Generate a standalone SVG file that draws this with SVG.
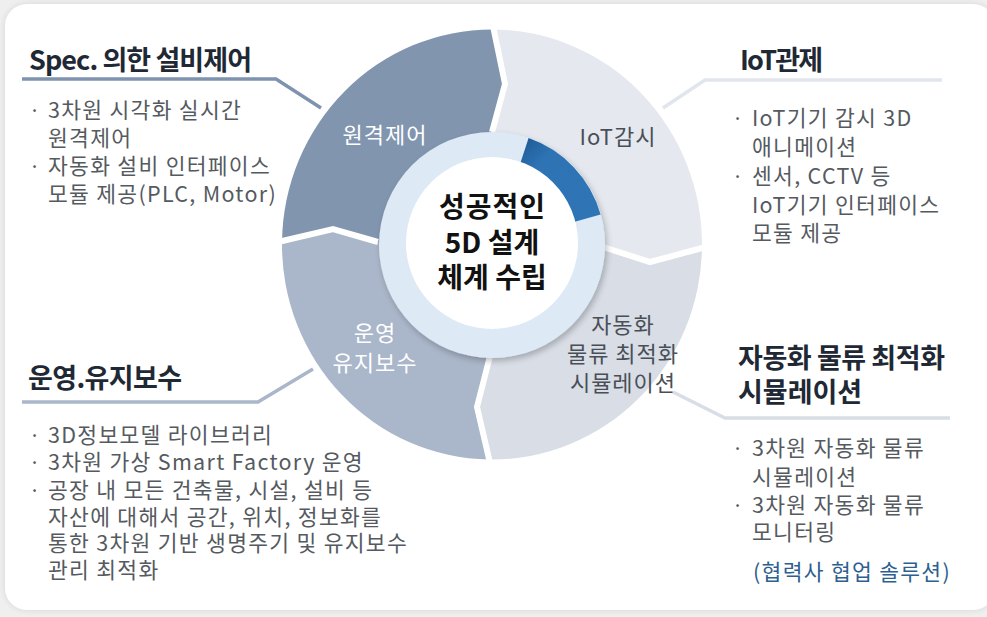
<svg xmlns="http://www.w3.org/2000/svg" width="987" height="617" viewBox="0 0 987 617">
<defs>
<style>
text{font-family:"Noto Sans CJK KR","Noto Sans",sans-serif;}
.title{font-size:27px;font-weight:700;fill:#1f2935;}
.item{font-size:21.5px;letter-spacing:1.3px;fill:#555a60;}
.bul{font-size:20px;fill:#555a60;}
.seg{font-size:22px;letter-spacing:1px;text-anchor:middle;}
.segw{fill:#ffffff;}
.segd{fill:#4a4f57;}
.center{font-size:28px;font-weight:700;fill:#111;text-anchor:middle;}
.gap{fill:none;stroke:#ffffff;stroke-width:6;stroke-linejoin:miter;}
.con{fill:none;stroke-width:3.5;}
</style>
<filter id="sh" x="-20%" y="-20%" width="140%" height="140%">
<feGaussianBlur in="SourceAlpha" stdDeviation="3"/>
<feOffset dx="2" dy="3"/>
<feComponentTransfer><feFuncA type="linear" slope="0.25"/></feComponentTransfer>
<feMerge><feMergeNode/><feMergeNode in="SourceGraphic"/></feMerge>
</filter>
<filter id="psh" x="-5%" y="-5%" width="110%" height="110%">
<feGaussianBlur in="SourceAlpha" stdDeviation="3"/>
<feComponentTransfer><feFuncA type="linear" slope="0.12"/></feComponentTransfer>
<feMerge><feMergeNode/><feMergeNode in="SourceGraphic"/></feMerge>
</filter>
<linearGradient id="arcg" x1="528" y1="138" x2="600" y2="212" gradientUnits="userSpaceOnUse">
<stop offset="0" stop-color="#1f5c98"/>
<stop offset="0.25" stop-color="#2e73b4"/>
<stop offset="1" stop-color="#2f75b6"/>
</linearGradient>
</defs>
<rect x="0" y="0" width="987" height="617" fill="#efefef"/>
<rect x="5" y="4" width="990" height="606" rx="22" fill="#ffffff" filter="url(#psh)"/>

<g id="ring-segments">
<g id="seg-remote">
<path d="M282,242 A210,215 0 0 1 493,29.5 L505,84 L492,132 L492,244 L378,242 L333,229 Z" fill="#8195af"/>
<text class="seg segw" x="385" y="143">원격제어</text>
</g>
<g id="seg-iot">
<path d="M493,29.5 A210,215 0 0 1 702,247 L650,262 L603,247 L492,244 L492,132 L505,84 Z" fill="#e5e9ef"/>
<text class="seg segd" x="618" y="145">IoT감시</text>
</g>
<g id="seg-logistics">
<path d="M702,247 A210,215 0 0 1 489,459.5 L477,407 L490,356 L492,244 L603,247 L650,262 Z" fill="#d8dde6"/>
<text class="seg segd" x="623" y="333">자동화</text>
<text class="seg segd" x="623" y="362">물류 최적화</text>
<text class="seg segd" x="623" y="391">시뮬레이션</text>
</g>
<g id="seg-ops">
<path d="M489,459.5 A210,215 0 0 1 282,242 L333,229 L378,242 L492,244 L490,356 L477,407 Z" fill="#aab6c9"/>
<text class="seg segw" x="375" y="341">운영</text>
<text class="seg segw" x="375" y="371">유지보수</text>
</g>
<g id="gaps">
<polyline class="gap" points="493,26 505,84 492,132"/>
<polyline class="gap" points="706,247 650,262 603,247"/>
<polyline class="gap" points="490,463 477,407 490,356"/>
<polyline class="gap" points="278,242 333,229 378,242"/>
</g>
</g>

<g id="hub">
<circle cx="492" cy="245" r="113" fill="#dde9f5" filter="url(#sh)"/>
<path d="M528.6,138.1 A113,113 0 0 1 600.6,214.4 L574.8,221.8 A86,86 0 0 0 520.0,164.3 Z" fill="url(#arcg)"/>
<circle cx="492" cy="243" r="86" fill="#ffffff"/>
<text class="center" x="492" y="217" textLength="106" lengthAdjust="spacing">성공적인</text>
<text class="center" x="492" y="253">5D 설계</text>
<text class="center" x="492" y="288">체계 수립</text>
</g>

<g id="connectors">
<polyline class="con" stroke="#7f93ae" points="22,79 276,79 321,108"/>
<polyline class="con" stroke="#e1e6ed" points="663,108 705,80 942,80"/>
<polyline class="con" stroke="#aab6c9" points="22,402 258,402 313,369"/>
<polyline class="con" stroke="#d8dde6" points="673,392 725,418 950,418"/>
</g>

<g id="box-spec">
<text class="title" x="29" y="70" textLength="223" lengthAdjust="spacing">Spec. 의한 설비제어</text>
<text class="bul" x="29" y="118">·</text>
<text class="item" x="48" y="118">3차원 시각화 실시간</text>
<text class="item" x="48" y="146">원격제어</text>
<text class="bul" x="29" y="174">·</text>
<text class="item" x="48" y="174">자동화 설비 인터페이스</text>
<text class="item" x="48" y="202">모듈 제공(PLC, Motor)</text>
</g>

<g id="box-iot">
<text class="title" x="740" y="70" textLength="83" lengthAdjust="spacing">IoT관제</text>
<text class="bul" x="732" y="126">·</text>
<text class="item" x="752" y="126">IoT기기 감시 3D</text>
<text class="item" x="752" y="155">애니메이션</text>
<text class="bul" x="732" y="184">·</text>
<text class="item" x="752" y="184">센서, CCTV 등</text>
<text class="item" x="752" y="213">IoT기기 인터페이스</text>
<text class="item" x="752" y="241">모듈 제공</text>
</g>

<g id="box-ops">
<text class="title" x="28" y="388" textLength="154" lengthAdjust="spacing">운영.유지보수</text>
<text class="bul" x="29" y="443">·</text>
<text class="item" x="48" y="443">3D정보모델 라이브러리</text>
<text class="bul" x="29" y="470">·</text>
<text class="item" x="48" y="470">3차원 가상 Smart Factory 운영</text>
<text class="bul" x="29" y="498">·</text>
<text class="item" x="48" y="498">공장 내 모든 건축물, 시설, 설비 등</text>
<text class="item" x="48" y="525">자산에 대해서 공간, 위치, 정보화를</text>
<text class="item" x="48" y="551">통한 3차원 기반 생명주기 및 유지보수</text>
<text class="item" x="48" y="578">관리 최적화</text>
</g>

<g id="box-logistics">
<text class="title" x="738" y="368" textLength="207" lengthAdjust="spacing">자동화 물류 최적화</text>
<text class="title" x="738" y="402">시뮬레이션</text>
<text class="bul" x="732" y="456">·</text>
<text class="item" x="752" y="456">3차원 자동화 물류</text>
<text class="item" x="752" y="485">시뮬레이션</text>
<text class="bul" x="732" y="513">·</text>
<text class="item" x="752" y="513">3차원 자동화 물류</text>
<text class="item" x="752" y="540">모니터링</text>
<text class="item" x="753" y="580" style="fill:#2d5f91">(협력사 협업 솔루션)</text>
</g>
</svg>
